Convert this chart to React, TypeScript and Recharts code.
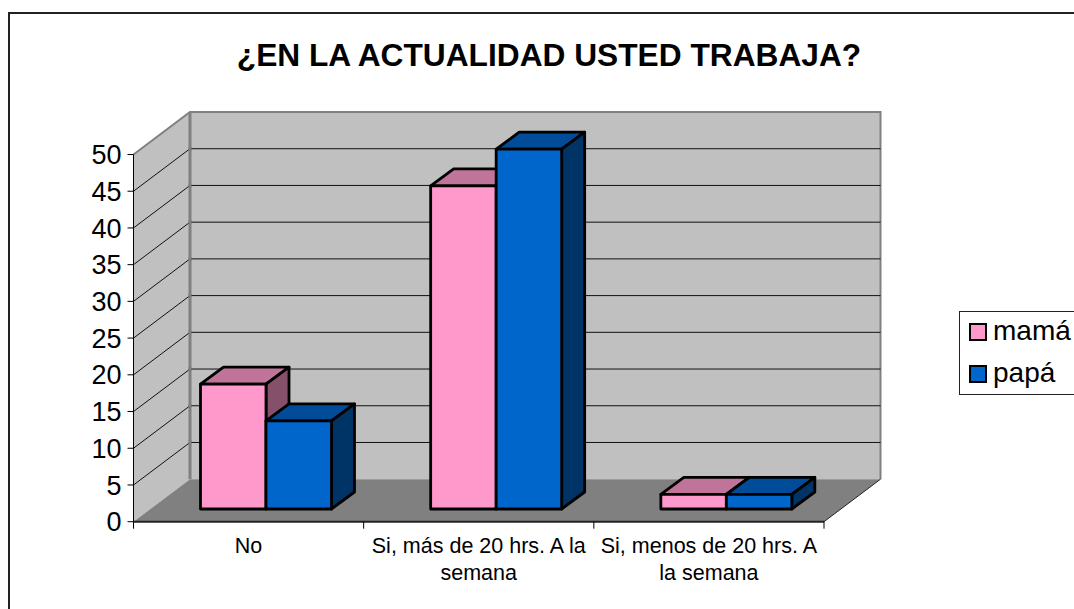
import React from 'react';
import { BarChart, Bar, XAxis, YAxis, CartesianGrid, Legend } from 'recharts';

const categories = ['No', 'Si, más de 20 hrs. A la\nsemana', 'Si, menos de 20 hrs. A\nla semana'];
const mama = [17, 44, 2];
const papa = [12, 49, 2];
const yTicks = [0, 5, 10, 15, 20, 25, 30, 35, 40, 45, 50];

const rows = categories.map((name, i) => ({ name, mama: mama[i], papa: papa[i] }));

const PLOT_LEFT = 133.5;
const PLOT_TOP = 154.5;
const PLOT_RIGHT = 824;
const PLOT_BOTTOM = 521.7;
const WALL_DX = 56.5;
const WALL_DY = 42.5;
const BAR_DX = 23;
const BAR_DY = 17;
const BAR_SHIFT_X = 17;
const BAR_SHIFT_Y = 12.7;
const BAND = (PLOT_RIGHT - PLOT_LEFT) / categories.length;

// back wall, side wall and floor of the 3D box, sits behind the chart svg
function Walls() {
  const x = PLOT_LEFT;
  const y = PLOT_TOP;
  const right = PLOT_RIGHT;
  const bottom = PLOT_BOTTOM;
  return (
    <svg width={1074} height={609} style={{ position: 'absolute', left: 0, top: 0 }}>
      <polygon points={`${x},${y} ${x + WALL_DX},${y - WALL_DY} ${right + WALL_DX},${y - WALL_DY} ${right + WALL_DX},${bottom - WALL_DY} ${x + WALL_DX},${bottom - WALL_DY} ${x},${bottom}`} fill="#c0c0c0" />
      <polygon points={`${x},${bottom} ${x + WALL_DX},${bottom - WALL_DY} ${right + WALL_DX},${bottom - WALL_DY} ${right},${bottom}`} fill="#808080" />
      <polyline points={`${x},${y} ${x + WALL_DX},${y - WALL_DY} ${right + WALL_DX},${y - WALL_DY} ${right + WALL_DX},${bottom - WALL_DY}`} fill="none" stroke="#808080" strokeWidth={2} />
      <line x1={x + WALL_DX} y1={y - WALL_DY} x2={x + WALL_DX} y2={bottom - WALL_DY} stroke="#808080" strokeWidth={3} />
      <line x1={right} y1={bottom} x2={right + WALL_DX} y2={bottom - WALL_DY} stroke="#222" strokeWidth={1} />
    </svg>
  );
}

function GridLine(props: any) {
  const { x1, x2, y1 } = props;
  if (y1 > 500 || y1 < 160) return null;
  const cx = x1 + WALL_DX;
  const cy = y1 - WALL_DY;
  return (
    <g>
      <polyline points={`${x1},${y1} ${cx},${cy} ${x2 + WALL_DX},${cy}`} fill="none" stroke="#111" strokeWidth={1} />
      {/* the thick wall corner stays on top of the line */}
      <line x1={cx} x2={cx} y1={cy - 2} y2={cy + 2} stroke="#808080" strokeWidth={3} />
    </g>
  );
}

function Box(props: any) {
  const { x, y, width, height, fill, top, side } = props;
  const l = x + BAR_SHIFT_X;
  const r = l + width;
  const t = y - BAR_SHIFT_Y;
  const b = t + height;
  const line = { stroke: '#000', strokeWidth: 2.8, strokeLinejoin: 'round' as const };
  return (
    <g>
      <polygon points={`${l},${t} ${l + BAR_DX},${t - BAR_DY} ${r + BAR_DX},${t - BAR_DY} ${r},${t}`} fill={top} {...line} />
      <polygon points={`${r},${t} ${r + BAR_DX},${t - BAR_DY} ${r + BAR_DX},${b - BAR_DY} ${r},${b}`} fill={side} {...line} />
      <rect x={l} y={t} width={width} height={height} fill={fill} {...line} />
    </g>
  );
}

function CategoryTick(props: any) {
  const { x, payload, index } = props;
  const tickTop = PLOT_BOTTOM;
  const tickBottom = PLOT_BOTTOM + 7;
  const lines = String(payload.value).split('\n');
  return (
    <g>
      <line x1={x - BAND / 2} x2={x - BAND / 2} y1={tickTop} y2={tickBottom} stroke="#000" />
      {index === categories.length - 1 && (
        <line x1={x + BAND / 2} x2={x + BAND / 2} y1={tickTop} y2={tickBottom} stroke="#000" />
      )}
      <text textAnchor="middle" fontSize={21.5} fontFamily="Liberation Sans" fill="#000">
        {lines.map((text, i) => (
          <tspan key={i} x={x} y={PLOT_BOTTOM + 31 + i * 27}>{text}</tspan>
        ))}
      </text>
    </g>
  );
}

function LegendBox() {
  const items = [
    { label: 'mamá', color: '#ff99cc', top: 323 },
    { label: 'papá', color: '#0066cc', top: 365 },
  ];
  return (
    <div style={{ position: 'absolute', left: 959, top: 311, width: 130, height: 82, border: '1px solid #222', boxSizing: 'content-box', background: '#fff' }}>
      {items.map((it) => (
        <div key={it.label}>
          <div style={{ position: 'absolute', left: 9, top: it.top - 312, width: 14, height: 14, border: '2px solid #000', background: it.color }} />
          <div style={{ position: 'absolute', left: 33, top: it.top - 319, fontSize: 28, lineHeight: '30px', fontFamily: 'Liberation Sans', color: '#000' }}>{it.label}</div>
        </div>
      ))}
    </div>
  );
}

export default function App() {
  return (
    <div style={{ position: 'absolute', left: 0, top: 0, width: 1074, height: 609, overflow: 'hidden', background: '#fff' }}>
      <div style={{ position: 'absolute', left: 8, top: 12, width: 1074, height: 620, border: '2px solid #222', boxSizing: 'border-box' }} />
      <div style={{ position: 'absolute', left: 8, width: 1082, top: 36, textAlign: 'center', fontFamily: 'Liberation Sans', fontWeight: 'bold', fontSize: 31.7, lineHeight: '38px', color: '#000' }}>
        ¿EN LA ACTUALIDAD USTED TRABAJA?
      </div>
      <Walls />
      <BarChart
        width={1074}
        height={609}
        data={rows}
        margin={{ top: PLOT_TOP, right: 1074 - PLOT_RIGHT, bottom: 0, left: 0 }}
        barSize={65.5}
        barGap={0}
        style={{ position: 'absolute', left: 0, top: 0 }}
      >
        <CartesianGrid vertical={false} horizontal={(p: any) => <GridLine {...p} />} />
        <XAxis
          dataKey="name"
          height={609 - PLOT_BOTTOM}
          interval={0}
          tick={<CategoryTick />}
          tickLine={false}
          axisLine={{ stroke: '#222', strokeWidth: 2 }}
        />
        <YAxis
          width={PLOT_LEFT}
          domain={[0, 50]}
          ticks={yTicks}
          interval={0}
          tick={{ fontSize: 27, fontFamily: 'Liberation Sans', fill: '#000' }}
          tickLine={{ stroke: '#000' }}
          axisLine={{ stroke: '#000' }}
          tickSize={6}
          tickMargin={6}
        />
        <Bar dataKey="mama" name="mamá" fill="#ff99cc" isAnimationActive={false} shape={(p: any) => <Box {...p} fill="#ff99cc" top="#c0749a" side="#84506a" />} />
        <Bar dataKey="papa" name="papá" fill="#0066cc" isAnimationActive={false} shape={(p: any) => <Box {...p} fill="#0066cc" top="#004c99" side="#003366" />} />
        <Legend content={() => <LegendBox />} wrapperStyle={{ position: 'absolute', left: 0, top: 0, width: 0, height: 0 }} />
      </BarChart>
    </div>
  );
}
